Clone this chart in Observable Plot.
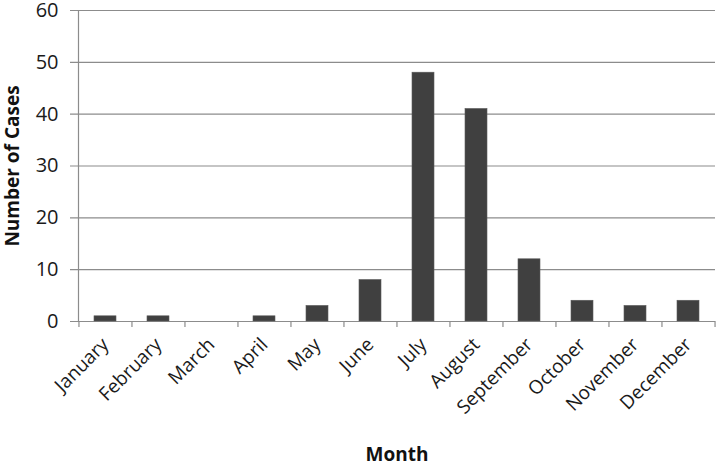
<!DOCTYPE html>
<html>
<head>
<meta charset="utf-8">
<script src="https://cdn.jsdelivr.net/npm/d3@7"></script>
<script src="https://cdn.jsdelivr.net/npm/@observablehq/plot@0.6"></script>
<style>
  body { margin: 0; background: #fff; }
  #chart svg { display: block; }
</style>
</head>
<body>
<div id="chart"></div>
<script>
const months = ["January","February","March","April","May","June","July","August","September","October","November","December"];
const cases = [1, 1, 0, 1, 3, 8, 48, 41, 12, 4, 3, 4];
const yTicks = [0, 10, 20, 30, 40, 50, 60];

const data = months.map((m, i) => ({month: m, cases: cases[i]}));

const W = 717, H = 465;
const mL = 78, mR = 2, mT = 10, mB = 144;
const step = (W - mL - mR) / months.length;
const font = "'Open Sans', sans-serif";

const chart = Plot.plot({
  width: W,
  height: H,
  marginLeft: mL,
  marginRight: mR,
  marginTop: mT,
  marginBottom: mB,
  style: {fontFamily: font, fontSize: "19px", color: "#1a1a1a", background: "#fff", overflow: "visible"},
  x: {domain: months, paddingInner: 0.585, paddingOuter: 0.2925, label: null},
  y: {domain: [0, 60], label: null},
  marks: [
    Plot.ruleY(yTicks, {stroke: "#8c8c8c", strokeWidth: 1.2, insetLeft: -8}),
    Plot.barY(data, {x: "month", y: "cases", fill: "#404040", stroke: "#5a5a5a", strokeWidth: 0.6}),
    Plot.frame({anchor: "left", stroke: "#8c8c8c", strokeWidth: 1.2}),
    Plot.ruleX(months, {x: d => d, y1: 0, y2: -1.16, dx: -step / 2, stroke: "#8c8c8c", strokeWidth: 1.2}),
    Plot.ruleX([months[months.length - 1]], {x: d => d, y1: 0, y2: -1.16, dx: step / 2, stroke: "#8c8c8c", strokeWidth: 1.2}),
    Plot.axisY({ticks: yTicks, tickSize: 0, tickPadding: 20, fontSize: 20, label: null}),
    Plot.axisX({tickSize: 0, tickPadding: 20, tickRotate: -45, fontSize: 19, label: null}),
    Plot.text(["Number of Cases"], {frameAnchor: "left", textAnchor: "middle", dx: -66, rotate: -90, fontWeight: "bold", fontSize: 19, fill: "#111"}),
    Plot.text(["Month"], {frameAnchor: "bottom", dy: 139, fontWeight: "bold", fontSize: 19, fill: "#111"})
  ]
});
document.getElementById("chart").appendChild(chart);
</script>
</body>
</html>
